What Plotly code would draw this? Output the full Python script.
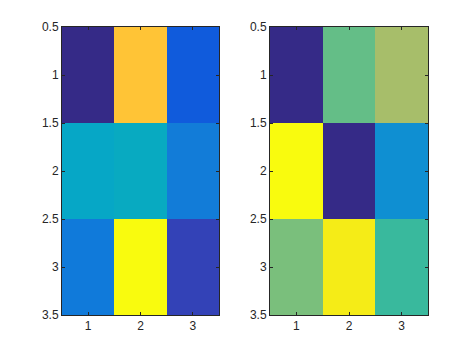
import plotly.graph_objects as go

cols = [1, 2, 3]
rows = [1, 2, 3]
left_z = [
    [0.00, 0.86, 0.11],
    [0.38, 0.40, 0.22],
    [0.21, 1.00, 0.06],
]
right_z = [
    [0.00, 0.57, 0.67],
    [1.00, 0.00, 0.29],
    [0.60, 0.97, 0.51],
]
x_ticks = [1, 2, 3]
y_ticks = [0.5, 1, 1.5, 2, 2.5, 3, 3.5]
y_tick_labels = ["0.5", "1", "1.5", "2", "2.5", "3", "3.5"]

parula = [
    [0.2081, 0.1663, 0.5292], [0.2116, 0.1898, 0.5777], [0.2123, 0.2138, 0.6270], [0.2081, 0.2386, 0.6771],
    [0.1959, 0.2645, 0.7279], [0.1707, 0.2919, 0.7792], [0.1253, 0.3242, 0.8303], [0.0591, 0.3598, 0.8683],
    [0.0117, 0.3875, 0.8820], [0.0060, 0.4086, 0.8828], [0.0165, 0.4266, 0.8786], [0.0329, 0.4430, 0.8720],
    [0.0498, 0.4586, 0.8641], [0.0629, 0.4737, 0.8554], [0.0723, 0.4887, 0.8467], [0.0779, 0.5040, 0.8384],
    [0.0793, 0.5200, 0.8312], [0.0749, 0.5375, 0.8263], [0.0641, 0.5570, 0.8240], [0.0488, 0.5772, 0.8228],
    [0.0343, 0.5966, 0.8199], [0.0265, 0.6137, 0.8135], [0.0239, 0.6287, 0.8038], [0.0231, 0.6418, 0.7913],
    [0.0228, 0.6535, 0.7768], [0.0267, 0.6642, 0.7607], [0.0384, 0.6743, 0.7436], [0.0590, 0.6838, 0.7254],
    [0.0843, 0.6928, 0.7062], [0.1133, 0.7015, 0.6859], [0.1453, 0.7098, 0.6646], [0.1801, 0.7177, 0.6424],
    [0.2178, 0.7250, 0.6193], [0.2586, 0.7317, 0.5954], [0.3022, 0.7376, 0.5712], [0.3482, 0.7424, 0.5473],
    [0.3953, 0.7459, 0.5244], [0.4420, 0.7481, 0.5033], [0.4871, 0.7491, 0.4840], [0.5300, 0.7491, 0.4661],
    [0.5709, 0.7485, 0.4494], [0.6099, 0.7473, 0.4337], [0.6473, 0.7456, 0.4188], [0.6834, 0.7435, 0.4044],
    [0.7184, 0.7411, 0.3905], [0.7525, 0.7384, 0.3768], [0.7858, 0.7356, 0.3633], [0.8185, 0.7327, 0.3498],
    [0.8507, 0.7299, 0.3360], [0.8824, 0.7274, 0.3217], [0.9139, 0.7258, 0.3063], [0.9450, 0.7261, 0.2886],
    [0.9739, 0.7314, 0.2666], [0.9938, 0.7455, 0.2403], [0.9990, 0.7653, 0.2164], [0.9955, 0.7861, 0.1967],
    [0.9880, 0.8066, 0.1794], [0.9789, 0.8271, 0.1633], [0.9697, 0.8481, 0.1475], [0.9626, 0.8705, 0.1309],
    [0.9589, 0.8949, 0.1132], [0.9598, 0.9218, 0.0948], [0.9661, 0.9514, 0.0755], [0.9763, 0.9831, 0.0538],
]
n = len(parula)
colorscale = [[i / (n - 1), "rgb(%d,%d,%d)" % tuple(round(c * 255) for c in rgb)] for i, rgb in enumerate(parula)]

fig = go.Figure()
fig.add_trace(go.Heatmap(z=left_z, x=cols, y=rows, colorscale=colorscale, zmin=0, zmax=1,
                         showscale=False, xaxis="x", yaxis="y", hoverinfo="skip"))
fig.add_trace(go.Heatmap(z=right_z, x=cols, y=rows, colorscale=colorscale, zmin=0, zmax=1,
                         showscale=False, xaxis="x2", yaxis="y2", hoverinfo="skip"))

axis_common = dict(showline=True, linecolor="#262626", linewidth=1, mirror="ticks",
                   ticks="inside", ticklen=3, tickcolor="#262626", showgrid=False, zeroline=False,
                   automargin=False,
                   tickfont=dict(family="Liberation Sans, Arial, sans-serif", size=12, color="#262626"))

W, H, OFF = 474, 355, 8  # page body offset of 8px
ydom = [1 - (315 - OFF) / H, 1 - (27 - OFF) / H]
fig.update_layout(
    width=W, height=H, autosize=False,
    margin=dict(l=0, r=0, t=0, b=0, pad=0, autoexpand=False),
    paper_bgcolor="white", plot_bgcolor="white",
    xaxis=dict(domain=[(62 - OFF) / W, (219 - OFF) / W], range=[0.5, 3.5], tickvals=x_ticks, anchor="y", **axis_common),
    yaxis=dict(domain=ydom, range=[3.5, 0.5], tickvals=y_ticks, ticktext=y_tick_labels, anchor="x", **axis_common),
    xaxis2=dict(domain=[(270 - OFF) / W, (428 - OFF) / W], range=[0.5, 3.5], tickvals=x_ticks, anchor="y2", **axis_common),
    yaxis2=dict(domain=ydom, range=[3.5, 0.5], tickvals=y_ticks, ticktext=y_tick_labels, anchor="x2", **axis_common),
)

fig.write_html("out.html")
